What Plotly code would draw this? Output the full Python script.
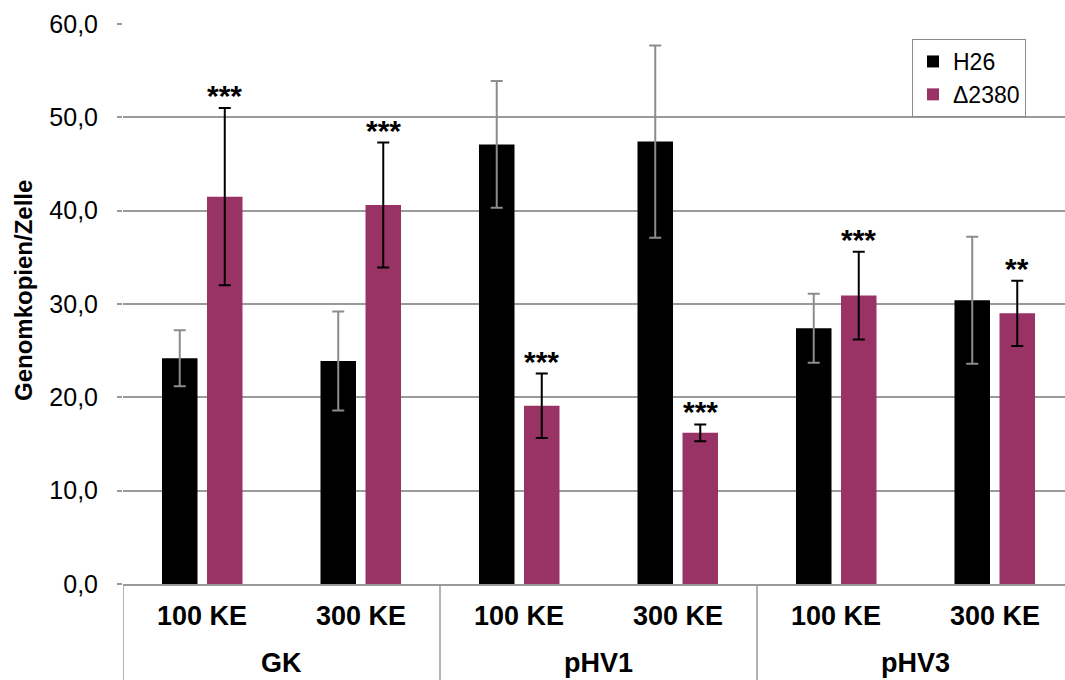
import plotly.graph_objects as go

# Inner and outer category labels
doses = ["100 KE", "300 KE", "100 KE", "300 KE", "100 KE", "300 KE"]
plasmids = ["GK", "pHV1", "pHV3"]

# Mean genome copies per cell and standard deviations
h26 = [24.2, 23.9, 47.1, 47.4, 27.4, 30.4]
h26_err = [3.0, 5.3, 6.8, 10.3, 3.7, 6.8]
d2380 = [41.5, 40.6, 19.1, 16.2, 30.9, 29.0]
d2380_err = [9.5, 6.7, 3.45, 0.9, 4.7, 3.5]
significance = ["***", "***", "***", "***", "***", "**"]

y_ticks = [0, 10, 20, 30, 40, 50, 60]

FONT = "Liberation Sans, Arial, sans-serif"
PURPLE = "#993366"
GRID = "#9a9a9a"

W, H = 1065, 680
L, R, T, B = 123, 0, 24, 96
cat_px = 158.5
plot_w = W - L - R
plot_h = H - T - B

xs = list(range(len(doses)))
bar_w = 0.224
gap = 0.03

fig = go.Figure()
fig.add_trace(go.Bar(
    x=xs, y=h26, name="H26", marker=dict(color="black", line=dict(width=0)),
    width=bar_w, offset=-gap - bar_w,
    error_y=dict(type="data", array=h26_err, color="#8c8c8c", thickness=2, width=6),
))
fig.add_trace(go.Bar(
    x=xs, y=d2380, name="Δ2380", marker=dict(color=PURPLE, line=dict(width=0)),
    width=bar_w, offset=gap,
    error_y=dict(type="data", array=d2380_err, color="black", thickness=2, width=6),
))

annotations = []
# significance stars above the Δ2380 error bars
for i, s in enumerate(significance):
    annotations.append(dict(
        x=i + gap + bar_w / 2, y=d2380[i] + d2380_err[i], xref="x", yref="y",
        text=f"<b>{s}</b>", showarrow=False, yanchor="bottom", yshift=-6,
        font=dict(family=FONT, size=30, color="black"),
    ))

# two-level category labels under the axis
for i, d in enumerate(doses):
    annotations.append(dict(
        x=i, y=-(616 - (T + plot_h)) / plot_h, xref="x", yref="paper",
        text=f"<b>{d}</b>", showarrow=False, yanchor="middle",
        font=dict(family=FONT, size=27, color="black"),
    ))
for g, p in enumerate(plasmids):
    annotations.append(dict(
        x=2 * g + 0.5, y=-(663 - (T + plot_h)) / plot_h, xref="x", yref="paper",
        text=f"<b>{p}</b>", showarrow=False, yanchor="middle",
        font=dict(family=FONT, size=27, color="black"),
    ))

# y axis title
annotations.append(dict(
    x=(23 - L) / plot_w, y=(T + plot_h - 291) / plot_h, xref="paper", yref="paper",
    text="<b>Genomkopien/Zelle</b>", textangle=-90, showarrow=False,
    xanchor="center", yanchor="middle",
    font=dict(family=FONT, size=24, color="black"),
))

shapes = []
for xb in [-0.5, 1.5, 3.5]:
    shapes.append(dict(
        type="line", xref="x", yref="paper", x0=xb, x1=xb,
        y0=0, y1=-(H - (T + plot_h)) / plot_h,
        line=dict(color=GRID, width=1.5),
    ))

x_max = -0.5 + plot_w / cat_px

fig.update_layout(
    width=W, height=H,
    margin=dict(l=L, r=R, t=T, b=B, pad=0),
    paper_bgcolor="white", plot_bgcolor="white",
    separators=", ",
    barmode="overlay",
    font=dict(family=FONT, size=20, color="black"),
    showlegend=True,
    legend=dict(
        x=(912 - L) / plot_w, y=(T + plot_h - 39) / plot_h,
        xanchor="left", yanchor="top",
        bgcolor="white", bordercolor="#8c8c8c", borderwidth=1,
        font=dict(family=FONT, size=23, color="black"),
        itemwidth=30, tracegroupgap=0,
    ),
    xaxis=dict(
        range=[-0.5, x_max], showticklabels=False, showgrid=False,
        zeroline=False, showline=True, linecolor=GRID, linewidth=1.5,
        ticks="", fixedrange=True,
    ),
    yaxis=dict(
        range=[0, 60], tickvals=y_ticks, tickformat=".1f",
        showgrid=True, gridcolor=GRID, gridwidth=1.5,
        zeroline=False, showline=False,
        ticks="outside", ticklen=5, tickcolor=GRID, tickwidth=1.5,
        ticklabelstandoff=14,
        tickfont=dict(family=FONT, size=25, color="black"),
    ),
    annotations=annotations,
    shapes=shapes,
)

fig.write_html("out.html")
